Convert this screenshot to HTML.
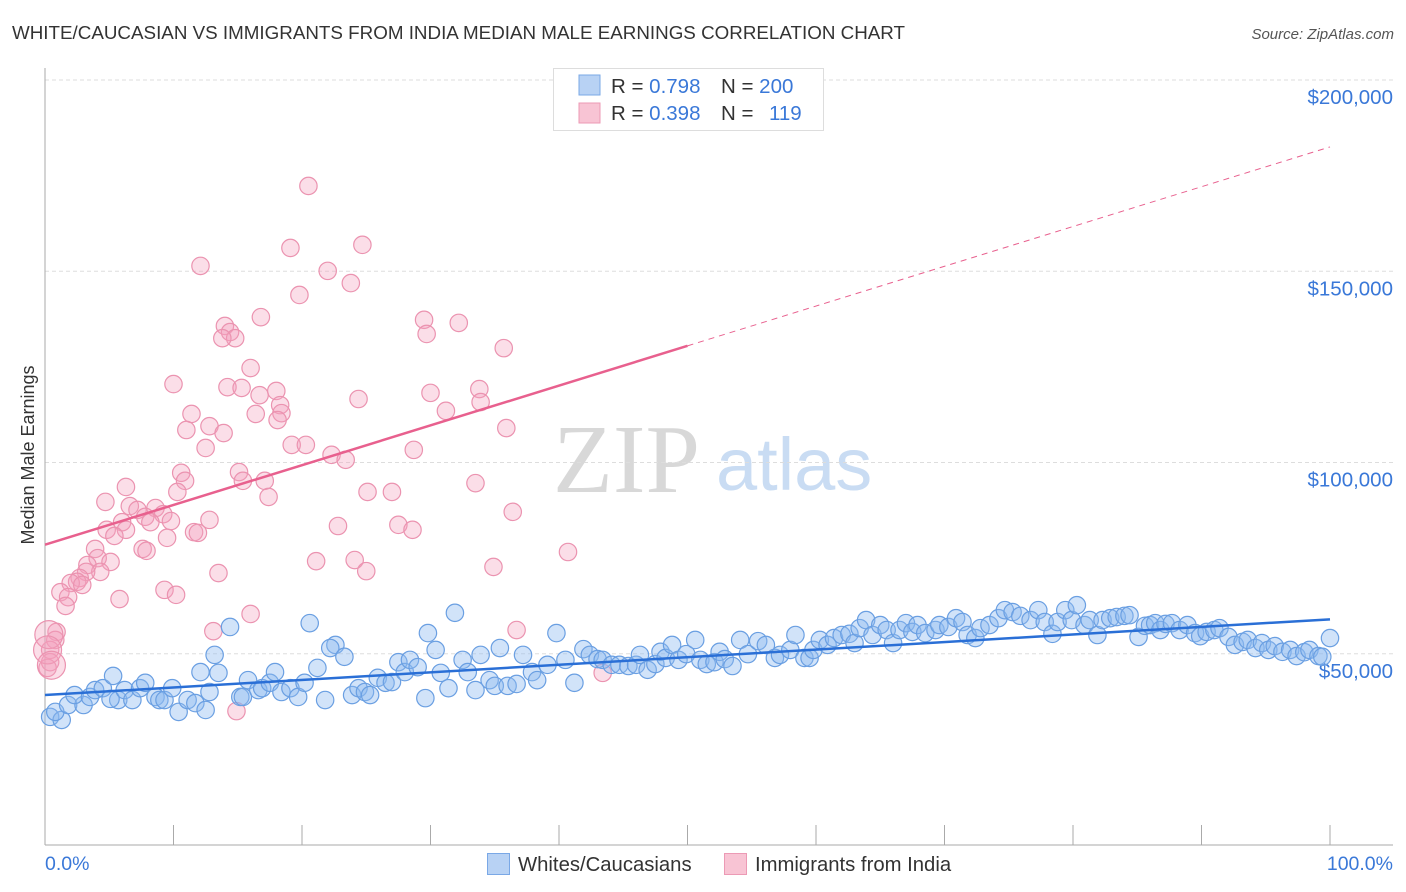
<!DOCTYPE html>
<html><head><meta charset="utf-8"><style>
body{margin:0;background:#fff;font-family:"Liberation Sans",sans-serif;}
svg{display:block}
</style></head><body>
<svg id="chart" width="1406" height="892" xmlns="http://www.w3.org/2000/svg" font-family="Liberation Sans, sans-serif">
<text x="12" y="39" font-size="18" fill="#333" textLength="893" lengthAdjust="spacingAndGlyphs">WHITE/CAUCASIAN VS IMMIGRANTS FROM INDIA MEDIAN MALE EARNINGS CORRELATION CHART</text>
<text x="1394" y="39" font-size="15" fill="#555" font-style="italic" text-anchor="end">Source: ZipAtlas.com</text>
<g>
<text x="553" y="492" font-family="Liberation Serif, serif" font-size="98" fill="#d8d8d8">ZIP</text>
<text x="716" y="490" font-size="74" fill="#c9dcf3">atlas</text>
</g>
<g id="grid"></g>
<g id="axes"></g>
<g id="pink"></g>
<g id="blue"></g>
<g id="trends"></g>
<text transform="translate(34,455) rotate(-90)" font-size="18" fill="#333" text-anchor="middle">Median Male Earnings</text>
<text x="45" y="870" font-size="19.5" fill="#3a78d8">0.0%</text>
<text x="1393" y="870" font-size="19.5" fill="#3a78d8" text-anchor="end">100.0%</text>
<g>
<rect x="553.5" y="68.5" width="270" height="62" fill="#fff" stroke="#ddd"/>
<rect x="579" y="75" width="21" height="20" fill="#b8d2f4" stroke="#7aa8e6"/>
<rect x="579" y="103" width="21" height="20" fill="#f8c4d4" stroke="#ec9ab5"/>
<text x="611" y="93" font-size="20.5" fill="#333">R = <tspan fill="#3a78d8">0.798</tspan><tspan x="721">N = </tspan><tspan fill="#3a78d8">200</tspan></text>
<text x="611" y="120" font-size="20.5" fill="#333">R = <tspan fill="#3a78d8">0.398</tspan><tspan x="721">N = </tspan><tspan x="769" fill="#3a78d8">119</tspan></text>
</g>
<g>
<rect x="487.5" y="853.5" width="22" height="21" fill="#b8d2f4" stroke="#7aa8e6"/>
<text x="518" y="871" font-size="20.3" fill="#333">Whites/Caucasians</text>
<rect x="724.5" y="853.5" width="22" height="21" fill="#f8c4d4" stroke="#ec9ab5"/>
<text x="755" y="871" font-size="20.3" fill="#333">Immigrants from India</text>
</g>
</svg>
<script>
const yTicks=[50,100,150,200];
const yTickLabels=["$50,000","$100,000","$150,000","$200,000"];
const xTicks=[0,10,20,30,40,50,60,70,80,90,100];
const blueX=[0.4,1.3,0.8,1.8,3.0,2.3,3.5,3.9,4.5,5.3,5.7,5.1,6.2,6.8,7.4,7.8,8.6,8.9,9.3,9.9,10.4,11.1,11.7,12.5,12.8,12.1,13.2,13.5,14.4,15.2,15.8,15.4,16.6,16.9,17.5,17.9,18.4,19.1,19.7,20.2,20.6,21.2,21.8,22.6,22.2,23.3,23.9,24.4,24.9,25.3,25.9,26.5,27.0,27.5,28.0,28.4,29.0,29.6,29.8,30.4,30.8,31.4,31.9,32.5,32.9,33.5,33.9,34.6,35.0,35.4,36.0,36.7,37.2,37.9,38.3,39.1,39.8,40.5,41.2,41.9,42.4,43.0,43.4,44.1,44.7,45.4,46.0,46.3,46.9,47.5,47.9,48.3,48.8,49.3,49.9,50.6,51.0,51.5,52.1,52.5,52.9,53.5,54.1,54.7,55.5,56.1,56.8,57.2,58.0,58.4,59.1,59.5,59.8,60.3,60.9,61.4,62.0,62.6,63.0,63.4,63.9,64.4,65.0,65.5,66.0,66.5,67.0,67.5,67.9,68.5,69.3,69.6,70.3,70.9,71.4,71.8,72.4,72.8,73.5,74.2,74.7,75.3,75.9,76.7,77.3,77.8,78.4,78.8,79.4,79.9,80.3,80.9,81.3,81.9,82.3,82.9,83.4,84.0,84.4,85.1,85.6,86.0,86.4,86.8,87.2,87.7,88.3,88.9,89.5,89.9,90.4,91.0,91.4,92.1,92.6,93.2,93.6,94.2,94.7,95.2,95.7,96.3,96.9,97.4,98.0,98.4,99.1,99.4,100];
const blueY=[33.5,32.7,34.8,36.6,36.6,39.2,38.7,40.5,41.0,44.2,37.9,38.2,40.5,37.9,41.0,42.4,38.7,37.9,37.9,41.0,34.8,37.9,37.1,35.3,40.0,45.2,49.7,45.0,57.0,38.7,43.1,38.7,40.5,41.0,42.4,45.2,40.0,41.0,38.7,42.4,58.0,46.3,37.9,52.3,51.5,49.2,39.2,41.0,40.0,39.2,43.7,42.4,42.6,47.8,45.2,48.4,46.5,38.4,55.4,51.0,45.0,41.0,60.7,48.4,45.2,40.5,49.7,43.1,41.6,51.5,41.6,42.1,49.7,45.2,43.1,47.1,55.4,48.4,42.4,51.2,49.7,48.6,48.4,47.1,47.1,46.8,47.1,49.7,45.8,47.3,50.5,48.9,52.3,48.4,49.9,53.6,48.4,47.3,47.8,50.5,48.6,46.8,53.6,49.9,53.3,52.3,48.9,49.7,51.0,54.9,48.9,48.9,51.0,53.6,52.3,54.1,54.9,55.2,52.8,56.7,58.8,54.9,57.5,56.2,52.8,56.2,58.0,55.7,57.5,55.4,56.2,57.5,57.0,59.3,58.3,54.9,54.1,56.7,57.5,59.3,61.4,60.9,59.9,58.8,61.4,58.3,55.2,58.3,61.4,58.8,62.7,57.5,58.8,54.9,58.8,59.3,59.6,59.9,60.1,54.4,57.3,57.5,58.0,56.2,57.8,58.0,56.2,57.5,55.4,54.6,55.7,56.2,56.7,54.4,52.3,53.1,53.6,51.5,52.8,51.0,52.0,50.5,51.0,49.4,50.4,51.0,49.4,49.2,54.1];
const pinkX=[20.5,12.1,19.1,24.7,22.0,23.8,19.8,16.8,14.0,14.4,14.8,13.8,29.5,32.2,29.7,35.7,16.0,10.0,14.2,15.3,18.0,16.7,30.0,33.8,33.9,24.4,18.3,16.4,11.4,18.4,18.1,31.2,12.8,11.0,13.9,35.9,19.2,20.3,12.5,28.7,22.3,23.4,10.6,15.1,10.9,15.4,17.1,10.3,33.5,25.1,27.0,6.3,17.4,4.7,6.6,7.2,8.6,9.2,7.8,36.4,12.8,6.0,8.2,9.8,6.3,4.8,22.8,27.5,28.6,11.6,11.9,5.4,9.5,7.6,7.9,3.9,40.7,24.1,21.1,4.1,3.3,5.1,4.3,3.2,25.0,34.9,13.5,2.7,2.5,2.0,2.9,9.3,10.2,1.2,1.8,5.8,1.6,16.0,13.1,36.7,0.9,0.8,0.4,0.4,0.2,43.4,14.9];
const pinkY=[172.3,151.4,156.1,156.9,150.1,146.9,143.8,138.0,135.7,134.1,132.5,132.5,137.3,136.5,133.6,129.9,124.7,120.5,119.7,119.5,118.7,117.6,118.2,119.2,115.8,116.6,115.0,112.7,112.7,112.9,111.1,113.5,109.5,108.5,107.7,109.0,104.6,104.6,103.8,103.3,102.0,100.7,97.3,97.5,95.2,95.2,95.2,92.3,94.6,92.3,92.3,93.6,91.0,89.7,88.6,87.6,88.1,86.5,85.8,87.1,85.0,84.4,84.4,84.7,82.4,82.4,83.4,83.7,82.4,81.8,81.6,80.8,80.3,77.4,76.9,77.4,76.6,74.5,74.2,75.0,73.2,74.0,71.4,71.4,71.6,72.7,71.1,69.8,68.8,68.5,68.0,66.7,65.4,66.1,64.8,64.3,62.5,60.4,55.9,56.2,55.7,53.6,51.0,47.8,46.3,45.0,35.0];
const pinkBig=[0.3,0.2,0.5];
const pinkBigY=[55.0,51.0,47.0];
const blueTrend=[39.2,59.0];
const pinkTrend=[78.5,182.5];
const pinkSolidEnd=50;

const NS="http://www.w3.org/2000/svg";
const X0=45,X1=1330,YB=845,YT=80;
function sx(p){return X0+(X1-X0)*p/100;}
function sy(v){return YB-(YB-YT)*v/200;}
function mk(tag,attrs,parent){const e=document.createElementNS(NS,tag);for(const k in attrs)e.setAttribute(k,attrs[k]);parent.appendChild(e);return e;}
const grid=document.getElementById('grid'),axes=document.getElementById('axes');
yTicks.forEach((t,i)=>{
  const l=mk('line',{x1:X0,x2:1393,y1:sy(t),y2:sy(t),stroke:'#ddd','stroke-dasharray':'4,3'},grid);
  
  
  const tx=mk('text',{x:1393,y:sy(t)+24,'font-size':20.5,fill:'#3a78d8','text-anchor':'end'},axes);
  tx.textContent=yTickLabels[i];
  
  
});
mk('line',{x1:X0,x2:X0,y1:68,y2:YB,stroke:'#aaa'},axes);
mk('line',{x1:X0,x2:1393,y1:YB,y2:YB,stroke:'#aaa'},axes);
xTicks.forEach(t=>{
  const l=mk('line',{x1:sx(t),x2:sx(t),y1:825,y2:YB,stroke:'#aaa'},axes);
  
  
});
const pg=document.getElementById('pink');
pinkX.forEach((x,i)=>{
  const c=mk('circle',{cx:sx(x),cy:sy(pinkY[i]),r:8.7,fill:'rgba(244,160,188,0.35)',stroke:'#eb93b0','stroke-width':1.2},pg);
  
  
});
pinkBig.forEach((x,i)=>{
  const c=mk('circle',{cx:sx(x),cy:sy(pinkBigY[i]),r:14,fill:'rgba(244,160,188,0.35)',stroke:'#eb93b0','stroke-width':1.2},pg);
  
  
});
const bg=document.getElementById('blue');
blueX.forEach((x,i)=>{
  const c=mk('circle',{cx:sx(x),cy:sy(blueY[i]),r:8.7,fill:'rgba(140,185,240,0.4)',stroke:'#6a9fe2','stroke-width':1.2},bg);
  
  
});
const tg=document.getElementById('trends');
function pv(p){return pinkTrend[0]+(pinkTrend[1]-pinkTrend[0])*p/100;}
const bl=mk('line',{x1:sx(0),y1:sy(blueTrend[0]),x2:sx(100),y2:sy(blueTrend[1]),stroke:'#2a6fd6','stroke-width':2.5},tg);


const pl=mk('line',{x1:sx(0),y1:sy(pv(0)),x2:sx(pinkSolidEnd),y2:sy(pv(pinkSolidEnd)),stroke:'#e8608e','stroke-width':2.5},tg);


const pd=mk('line',{x1:sx(pinkSolidEnd),y1:sy(pv(pinkSolidEnd)),x2:sx(100),y2:sy(pv(100)),stroke:'#e8608e','stroke-width':1,'stroke-dasharray':'6,5'},tg);


</script>
</body></html>
